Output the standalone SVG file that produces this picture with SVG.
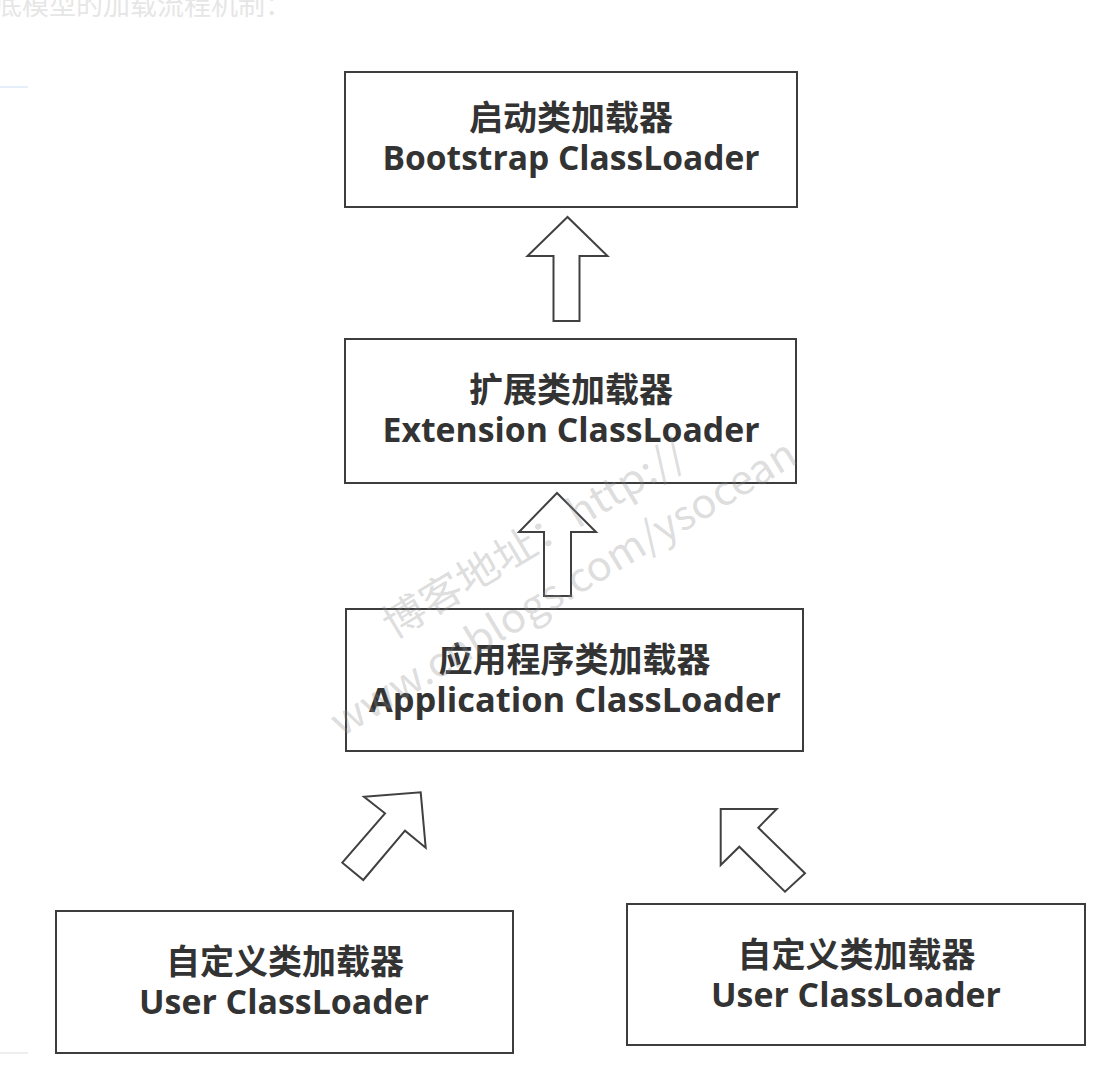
<svg xmlns="http://www.w3.org/2000/svg" width="1110" height="1078" viewBox="0 0 1110 1078">
  <style>
    .box { fill: #ffffff; stroke: #3d3d3d; stroke-width: 2; }
    .cn { font-family: "Noto Sans CJK SC", "Noto Sans", sans-serif; font-weight: 700; font-size: 34px; fill: #333333; text-anchor: middle; }
    .en { font-family: "Open Sans", "Noto Sans CJK SC", sans-serif; font-weight: 700; font-size: 34px; fill: #333333; text-anchor: middle; }
    .arrow { fill: #ffffff; stroke: #404040; stroke-width: 2; stroke-linejoin: miter; }
    .wm { font-family: "Noto Sans CJK SC", "Open Sans", sans-serif; font-weight: 400; font-size: 40px; fill: #8a8a8a; fill-opacity: 0.3; text-anchor: middle; }
  </style>
  <rect x="0" y="0" width="1110" height="1078" fill="#ffffff"/>

  <!-- faint page fragments -->
  <text x="-5" y="15" font-family="Noto Sans CJK SC, sans-serif" font-size="27" fill="#e6e6e6">底模型的加载流程机制：</text>
  <line x1="0" y1="87" x2="28" y2="87" stroke="#e6eefa" stroke-width="2"/>
  <line x1="0" y1="1053" x2="28" y2="1053" stroke="#eeeeee" stroke-width="2"/>

  <g id="connectors">
    <polygon class="arrow" points="567.5,217 527.5,256 553.5,256 553.5,321 579.5,321 579.5,256 607.5,256"/>
    <polygon class="arrow" points="557,493 519,532 544,532 544,596 571,596 571,532 596,532"/>
    <polygon class="arrow" points="420.7,792.3 425.7,847.7 405,830.7 363.3,880 342.3,862.7 385,813.3 364,796.7"/>
    <polygon class="arrow" points="720.7,809 776.7,809 758.3,827.7 805,873.3 785,891.7 739.3,846.7 720.7,865"/>
  </g>

  <g id="bootstrap">
    <rect class="box" x="345" y="72" width="452" height="135"/>
    <text class="cn" x="571" y="130">启动类加载器</text>
    <text class="en" x="571" y="170" textLength="377" lengthAdjust="spacingAndGlyphs">Bootstrap ClassLoader</text>
  </g>

  <g id="extension">
    <rect class="box" x="345" y="339" width="451" height="144"/>
    <text class="cn" x="571" y="402">扩展类加载器</text>
    <text class="en" x="571" y="442" textLength="377" lengthAdjust="spacingAndGlyphs">Extension ClassLoader</text>
  </g>

  <g id="application">
    <rect class="box" x="346" y="609" width="457" height="142"/>
    <text class="cn" x="574.5" y="672">应用程序类加载器</text>
    <text class="en" x="575" y="712" textLength="412" lengthAdjust="spacingAndGlyphs">Application ClassLoader</text>
  </g>

  <g id="user1">
    <rect class="box" x="56" y="911" width="457" height="142"/>
    <text class="cn" x="285" y="974">自定义类加载器</text>
    <text class="en" x="284" y="1014" textLength="290" lengthAdjust="spacingAndGlyphs">User ClassLoader</text>
  </g>

  <g id="user2">
    <rect class="box" x="627" y="904" width="458" height="141"/>
    <text class="cn" x="856.5" y="967">自定义类加载器</text>
    <text class="en" x="856" y="1007" textLength="290" lengthAdjust="spacingAndGlyphs">User ClassLoader</text>
  </g>

  <g id="watermark" transform="translate(541,551) rotate(-31)">
    <text class="wm" x="0" y="0" textLength="345" lengthAdjust="spacingAndGlyphs">博客地址：http://</text>
    <text class="wm" x="0" y="57" textLength="535" lengthAdjust="spacingAndGlyphs">www.cnblogs.com/ysocean</text>
  </g>
</svg>
